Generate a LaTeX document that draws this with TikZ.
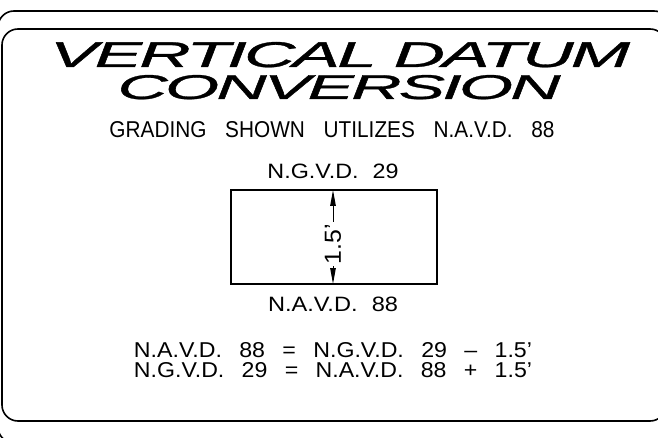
\documentclass[tikz,border=0pt]{standalone}
\usepackage{fontspec}
\setmainfont{Liberation Sans}
\newfontfamily\titlefont[FakeBold=0.8,LetterSpace=-4]{Liberation Sans}
\usetikzlibrary{arrows.meta}
\newcommand\gp{\hspace{0.75em}}
\newcommand\wg{\hspace{0.9em}}
\newcommand\lgap{\hspace{0.6em}}
\tikzset{
  frame/.style={line width=1.6pt, rounded corners=16pt},
  txt/.style={anchor=base, inner sep=0pt, font=\fontsize{20}{20}\selectfont},
  dimarrow/.style={line width=1pt, -{Triangle[length=16pt,width=5.5pt]}},
}
\begin{document}
\begin{tikzpicture}[x=1pt,y=-1pt]
\useasboundingbox (0,0) rectangle (658,438);
\draw[frame] (-2,11) rectangle (670,443);
\draw[frame] (2,29) rectangle (666,421);
\node[anchor=base, inner sep=0pt] (t1) at (340,67) {\resizebox{580pt}{25pt}{\titlefont\itshape VERTICAL DATUM}};
\node[anchor=base, inner sep=0pt] (t2) at (339,99) {\resizebox{443pt}{24pt}{\titlefont\itshape CONVERSION}};
\node[txt] (sub) at (332,138) {\resizebox{445pt}{16pt}{GRADING\wg SHOWN\wg UTILIZES\wg N.A.V.D.\wg 88}};
\node[txt] (ngvd) at (333,179) {\resizebox{131pt}{14.5pt}{N.G.V.D.\lgap 29}};
\node[draw, line width=1.2pt, minimum width=206pt, minimum height=94pt, inner sep=0pt] (box) at (334,237) {};
\coordinate (dt) at (333,190);
\coordinate (db) at (333,284);
\node[rotate=90, inner sep=2pt] (dim) at (333,244) {\resizebox{40pt}{16pt}{\fontsize{20}{20}\selectfont 1.5'}};
\draw[dimarrow] (dim.east) -- (dt);
\draw[dimarrow] (dim.west) -- (db);
\node[txt] (navd) at (333,311) {\resizebox{130pt}{14.5pt}{N.A.V.D.\lgap 88}};
\node[txt] (eq1) at (333,357) {\resizebox{398pt}{15pt}{N.A.V.D.\gp 88\gp =\gp N.G.V.D.\gp 29\gp --\gp 1.5'}};
\node[txt] (eq2) at (333,377) {\resizebox{398pt}{15pt}{N.G.V.D.\gp 29\gp =\gp N.A.V.D.\gp 88\gp +\gp 1.5'}};
\end{tikzpicture}
\end{document}
